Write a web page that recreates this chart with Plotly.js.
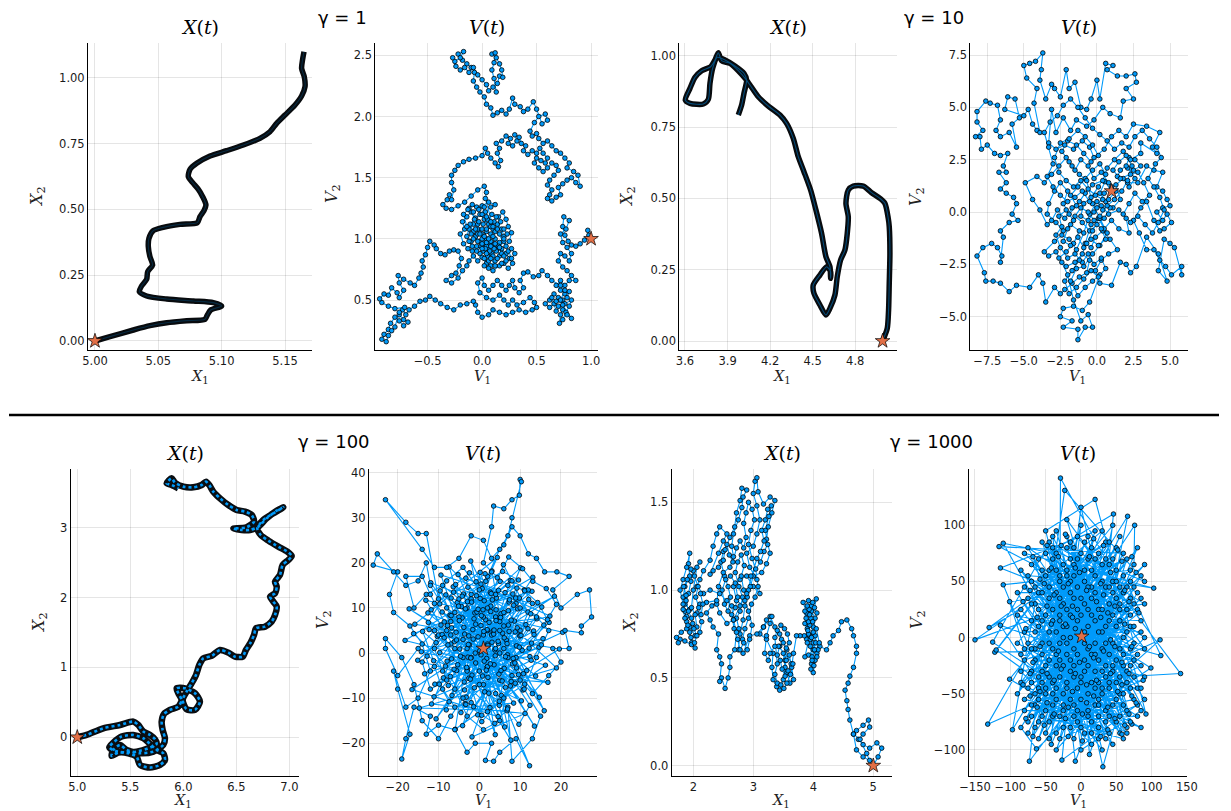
<!DOCTYPE html>
<html><head><meta charset="utf-8">
<script src="https://cdn.plot.ly/plotly-3.0.1.min.js"></script>
<style>html,body{margin:0;padding:0;background:#fff}#chart{width:1231px;height:811px}</style>
</head><body><div id="chart"></div>
<script>
// ---------- DATA ----------
const gammaLabels = ['γ = 1', 'γ = 10', 'γ = 100', 'γ = 1000'];

// γ = 1 : position X(t)
const g1_X = [[5.000,0],[5.0118,0.0165],[5.0303,0.0418],[5.0434,0.0582],[5.0566,0.0696],[5.0724,0.0772],[5.0868,0.0823],[5.0887,0.0987],[5.0913,0.1177],[5.1000,0.1329],[5.0934,0.1456],[5.0776,0.1519],[5.0566,0.1595],[5.0408,0.1709],[5.0350,0.1873],[5.0368,0.2089],[5.0408,0.2342],[5.0416,0.2633],[5.0455,0.2886],[5.0434,0.3203],[5.0421,0.3582],[5.0426,0.3899],[5.0460,0.4190],[5.0539,0.4316],[5.0671,0.4430],[5.0808,0.4494],[5.0829,0.4722],[5.0860,0.4949],[5.0876,0.5165],[5.0850,0.5481],[5.0816,0.5759],[5.0771,0.6013],[5.0737,0.6241],[5.0750,0.6519],[5.0803,0.6747],[5.0908,0.7025],[5.1039,0.7228],[5.1171,0.7443],[5.1302,0.7696],[5.1381,0.7949],[5.1434,0.8266],[5.1500,0.8582],[5.1579,0.8962],[5.1631,0.9304],[5.1658,0.9658],[5.1652,1.0038],[5.1631,1.0354],[5.1639,1.0696],[5.1650,1.0987]];

// γ = 1 : velocity V(t)
const g1_V = [[1.00,1.00],[0.97,1.07],[0.98,1.03],[0.94,0.99],[0.90,0.96],[0.86,0.94],[0.82,0.95],[0.79,0.98],[0.76,1.03],[0.74,1.10],[0.75,1.18],[0.80,1.15],[0.77,1.08],[0.72,1.04],[0.74,0.97],[0.78,0.93],[0.82,0.88],[0.80,0.82],[0.76,0.86],[0.72,0.88],[0.70,0.82],[0.74,0.77],[0.78,0.74],[0.82,0.70],[0.86,0.66],[0.80,0.66],[0.76,0.62],[0.72,0.66],[0.68,0.62],
[0.72,0.58],[0.76,0.55],[0.80,0.57],[0.78,0.52],[0.74,0.50],[0.70,0.52],[0.66,0.55],[0.62,0.50],[0.58,0.47],[0.62,0.44],[0.66,0.47],[0.70,0.45],[0.74,0.42],[0.72,0.38],[0.71,0.31],[0.74,0.34],[0.77,0.40],[0.80,0.45],[0.82,0.50],[0.76,0.47],[0.68,0.49],[0.64,0.52],[0.68,0.41],[0.74,0.46],[0.82,0.35],[0.78,0.38],[0.72,0.50],[0.76,0.58],[0.72,0.62],
[0.64,0.66],[0.60,0.70],[0.55,0.74],[0.52,0.70],[0.47,0.69],[0.42,0.73],[0.38,0.72],[0.35,0.66],[0.38,0.60],[0.34,0.56],[0.30,0.60],[0.28,0.66],[0.25,0.62],[0.22,0.58],[0.18,0.62],[0.14,0.66],[0.10,0.62],[0.06,0.58],[0.02,0.62],[0.00,0.68],[-0.04,0.64],[-0.02,0.56],[0.04,0.52],[0.10,0.50],[0.16,0.54],[0.20,0.50],[0.24,0.46],[0.28,0.50],[0.32,0.46],[0.38,0.48],[0.44,0.52],[0.48,0.48],[0.50,0.44],[0.46,0.42],[0.40,0.40],[0.34,0.42],[0.28,0.40],[0.22,0.38],[0.16,0.40],[0.10,0.42],[0.06,0.38],[0.00,0.36],[-0.04,0.40],[-0.06,0.46],[-0.08,0.49],
[-0.14,0.47],[-0.20,0.46],[-0.26,0.42],[-0.32,0.44],[-0.38,0.47],[-0.43,0.50],[-0.48,0.53],[-0.52,0.50],[-0.57,0.49],[-0.62,0.45],[-0.67,0.42],
[-0.70,0.38],[-0.73,0.42],[-0.76,0.38],[-0.72,0.34],[-0.68,0.32],[-0.72,0.29],[-0.76,0.33],[-0.80,0.36],[-0.84,0.31],[-0.86,0.26],[-0.90,0.22],[-0.92,0.18],[-0.88,0.16],[-0.86,0.21],[-0.83,0.25],[-0.80,0.28],[-0.76,0.40],[-0.71,0.44],[-0.80,0.43],[-0.86,0.45],[-0.92,0.48],[-0.94,0.51],[-0.90,0.55],[-0.86,0.54],
[-0.83,0.60],[-0.78,0.56],[-0.76,0.52],[-0.72,0.58],[-0.76,0.64],[-0.77,0.70],[-0.72,0.67],[-0.66,0.64],[-0.62,0.62],[-0.58,0.68],[-0.56,0.72],[-0.54,0.77],[-0.55,0.82],[-0.52,0.87],[-0.50,0.93],[-0.48,0.98],[-0.44,0.95],[-0.42,0.92],[-0.38,0.88],[-0.34,0.87],[-0.30,0.90],[-0.26,0.91],[-0.22,0.90],[-0.19,0.84],[-0.21,0.78],[-0.24,0.72],[-0.28,0.70],[-0.33,0.66],[-0.28,0.64],[-0.22,0.68],[-0.18,0.74],[-0.14,0.78],[-0.12,0.82],
[-0.08,0.86],[-0.04,0.82],[0.00,0.85],[0.04,0.80],[0.08,0.78],[0.12,0.82],[0.16,0.86],[0.14,0.92],[0.10,0.96],[0.06,0.92],[0.02,0.95],[-0.02,0.98],[-0.06,1.02],[-0.10,0.98],[-0.14,1.02],[-0.12,1.08],[-0.08,1.12],[-0.04,1.08],[0.00,1.04],[0.04,1.00],[0.08,1.04],[0.12,1.00],[0.16,0.97],[0.20,1.02],[0.18,1.08],[0.14,1.12],[0.10,1.08],[0.06,1.12],[0.02,1.16],[-0.02,1.20],[-0.06,1.17],[-0.10,1.22],[-0.14,1.18],[-0.18,1.14],[-0.16,1.08],[-0.20,1.04],[-0.17,0.96],[-0.13,0.92],[-0.09,0.90],[-0.05,0.94],[0.01,0.90],[0.05,0.86],[0.09,0.88],[0.13,0.90],[0.18,0.92],[0.22,0.88],[0.25,0.84],[0.28,0.80],[0.24,0.76],[0.20,0.80],[0.16,0.78],[0.10,0.74],[0.06,0.76],[0.02,0.78],[0.07,0.96],[0.11,1.14],[0.15,1.18],[0.19,1.22],[0.22,1.16],[0.24,1.10],[0.27,1.05],[0.25,0.98],[0.22,0.94],[0.03,1.22],[0.08,1.26],[0.12,1.28],[0.06,1.30],[0.00,1.27],[-0.05,1.26],[-0.09,1.28],[-0.12,1.25],[-0.04,1.12],[0.00,1.00],[0.04,0.94],[0.08,0.98],[-0.02,0.88],
[0.02,0.84],[0.06,0.82],[0.10,0.86],[0.14,0.84],[0.18,0.88],[0.15,0.94],[0.11,0.92],[0.07,0.90],[0.03,0.92],[-0.01,0.94],[-0.05,0.90],[-0.09,0.94],[-0.12,0.98],[-0.08,1.00],[-0.04,1.04],[0.00,1.08],[0.04,1.06],[0.08,1.10],[0.12,1.06],[0.16,1.04],[0.20,1.08],[0.23,1.04],[0.20,0.98],[0.16,0.93],[0.12,0.96],[0.08,0.94],[0.04,0.97],[0.00,0.96],[-0.04,0.98],[-0.08,1.06],[-0.11,1.12],[-0.07,1.16],[-0.03,1.14],[0.01,1.12],[0.05,1.16],[0.09,1.20],[0.13,1.18],[0.17,1.14],[0.14,1.08],[0.10,1.02],[0.06,1.00],[0.02,1.02],[-0.02,1.04],[-0.06,1.08],[-0.10,1.04],[-0.14,1.10],[-0.17,1.20],[-0.13,1.24],[-0.08,1.22],[-0.03,1.24],[0.02,1.26],[0.00,1.20],[0.04,1.18],[0.08,1.14],[0.04,1.08],[0.00,0.92],[0.04,0.88],[0.08,0.84],[0.12,0.78],[0.18,0.80],[0.22,0.82],[0.20,0.86],[0.24,0.90],[0.27,0.92],[0.30,0.88],[0.27,0.84],[0.20,1.00],[0.10,1.10],
[0.03,1.33],[0.04,1.38],[0.02,1.43],[-0.04,1.40],[-0.10,1.35],[-0.16,1.30],[-0.22,1.27],[-0.28,1.24],[-0.33,1.25],[-0.36,1.28],[-0.32,1.32],[-0.30,1.36],[-0.28,1.32],[-0.26,1.40],[-0.28,1.46],[-0.28,1.52],[-0.25,1.56],[-0.22,1.60],[-0.17,1.63],[-0.12,1.65],[-0.06,1.66],[0.00,1.68],[0.03,1.74],[0.05,1.70],[0.08,1.66],[0.12,1.62],[0.15,1.59],[0.17,1.64],[0.14,1.70],[0.16,1.74],[0.13,1.78],
[0.18,1.80],[0.22,1.84],[0.26,1.82],[0.24,1.78],[0.28,1.76],[0.32,1.80],[0.30,1.85],[0.34,1.83],[0.36,1.78],[0.40,1.76],[0.38,1.72],[0.42,1.69],[0.46,1.72],[0.50,1.70],[0.53,1.74],[0.56,1.70],[0.60,1.66],[0.58,1.62],[0.54,1.64],[0.50,1.66],[0.48,1.62],[0.52,1.58],[0.56,1.55],[0.60,1.58],[0.64,1.62],[0.68,1.60],[0.70,1.56],[0.66,1.52],[0.62,1.48],[0.60,1.44],[0.64,1.40],[0.62,1.36],[0.60,1.33],[0.64,1.31],[0.68,1.34],[0.72,1.36],[0.70,1.42],[0.74,1.45],[0.78,1.48],[0.82,1.50],[0.86,1.46],[0.90,1.43],[0.88,1.52],[0.84,1.55],[0.78,1.58],[0.80,1.62],[0.76,1.66],[0.72,1.70],[0.68,1.72],[0.64,1.76],[0.60,1.80],[0.56,1.78],[0.52,1.82],[0.50,1.86],[0.46,1.84],[0.44,1.88],
[0.48,1.95],[0.52,2.00],[0.58,2.02],[0.60,1.97],[0.55,1.94],[0.50,2.06],[0.47,2.12],[0.42,2.06],[0.38,2.04],[0.35,2.08],[0.30,2.10],[0.28,2.15],[0.25,2.06],[0.22,2.02],[0.18,2.05],[0.14,2.03],[0.10,2.01],[0.08,2.07],[0.04,2.10],[0.02,2.16],[-0.02,2.20],[-0.05,2.24],[-0.08,2.29],[-0.07,2.36],[-0.10,2.40],[-0.14,2.43],[-0.18,2.46],[-0.22,2.51],[-0.17,2.53],[-0.20,2.48],[-0.25,2.45],[-0.27,2.48],[-0.24,2.41],[-0.20,2.38],[-0.16,2.40],[-0.12,2.36],[-0.08,2.40],[-0.04,2.34],[0.00,2.30],[0.04,2.26],[0.06,2.21],[0.10,2.24],[0.14,2.27],[0.16,2.33],[0.19,2.32],[0.18,2.38],[0.16,2.43],[0.13,2.48],[0.09,2.51],[0.12,2.52],[0.11,2.44],[0.09,2.38],[0.11,2.31],[0.13,2.20]];

// γ = 10 : position X(t)
const g10_X = [[4.9925,0],[5.0254,0.0444],[5.0348,0.1086],[5.0395,0.2021],[5.0442,0.3072],[5.0395,0.4007],[5.0325,0.4299],[5.0090,0.4825],[4.9738,0.5],[4.9150,0.5199],[4.8563,0.5432],[4.7859,0.5432],[4.7507,0.5292],[4.7342,0.4825],[4.7507,0.4357],[4.7436,0.3773],[4.7272,0.3189],[4.6967,0.2839],[4.6732,0.2255],[4.6567,0.1612],[4.6215,0.1145],[4.5933,0.0911],[4.5511,0.1262],[4.5088,0.1671],[4.5041,0.1963],[4.5511,0.2313],[4.5980,0.2605],[4.6262,0.2430],[4.6262,0.2196],[4.6215,0.2605],[4.5933,0.2956],[4.5628,0.3773],[4.5229,0.4591],[4.4853,0.5292],[4.4383,0.5935],[4.3984,0.6460],[4.3632,0.7103],[4.3162,0.7629],[4.2693,0.7921],[4.1871,0.8236],[4.1166,0.8563],[4.0697,0.8890],[4.0297,0.9171],[3.9757,0.9474],[3.9170,0.9731],[3.8583,0.9825],[3.8348,1.0105],[3.8113,0.9848],[3.7808,0.9614],[3.7174,0.9474],[3.6704,0.9241],[3.6352,0.8855],[3.6023,0.8446],[3.6352,0.8329],[3.7292,0.8306],[3.7644,0.8470],[3.7761,0.9030],[3.7949,0.9556],[3.8278,0.9942],[3.8818,0.9848],[3.9522,0.9638],[4.0157,0.9381],[4.0344,0.9147],[4.0157,0.8680],[3.9992,0.8271],[3.9757,0.7921]];

// γ = 10 : velocity V(t)
const g10_V = [[1.00,1.00],[0.55,1.45],[0.20,0.90],[0.60,0.50],[1.10,0.20],[1.60,0.60],[1.30,1.30],[1.80,1.60],[2.20,1.20],[2.60,1.60],[2.10,2.10],[2.50,2.00],[3.00,2.20],[2.60,2.50],[2.20,2.60],[2.00,2.20],[1.60,2.00],[1.40,1.70],[2.10,1.40],[2.80,1.40],[3.40,2.20],[3.90,2.00],[4.50,1.90],[4.10,1.20],[4.50,1.00],[4.80,0.60],[5.00,0.30],[4.50,0.20],[4.10,0.00],[4.50,-0.40],[4.80,-0.10],[5.10,-0.50],[4.60,-0.80],[4.30,-0.90],[3.90,-0.40],[3.40,0.50],[3.00,0.20],[2.50,-0.40],[2.90,-1.00],[3.40,-1.80],[3.90,-1.80],[4.30,-2.30],[4.70,-2.60],[5.10,-3.00],[5.80,-2.60],[5.80,-3.00],[5.30,-1.70],[5.00,-1.50],[4.60,-1.30],[4.20,-2.80],[4.80,-3.30],[4.20,-2.00],[3.40,-1.20],[2.70,-2.60],[2.30,-2.90],[2.00,-2.50],[1.60,-2.40],[1.00,-3.50],[0.20,-3.40],[-0.10,-2.80],[0.30,-2.30],[0.80,-2.00],[1.40,-1.80],[0.90,-1.30],[0.40,-0.90],[-0.10,-1.20],[-0.40,-1.70],[-0.80,-1.50],[-0.40,-0.60],[0.10,-0.30],[0.50,-0.80],[1.00,-0.40],[1.50,-0.80],[2.20,-1.00],[2.00,-0.30],[1.50,0.10],[0.80,-0.10],[0.30,0.30],[-0.20,0.00],[-0.60,-0.40],[-1.10,-0.20],[-0.90,0.40],[-0.40,0.70],[0.10,1.20],[0.60,1.80],[0.20,2.30],[-0.30,2.00],[-0.80,1.60],[-1.30,1.20],[-1.80,0.80],[-1.40,0.30],[-1.90,-0.10],[-2.30,0.40],[-2.00,1.00],[-2.50,1.40],[-2.90,1.00],[-3.30,0.40],[-3.40,-0.10],[-2.80,-0.50],[-2.30,-0.90],[-1.80,-0.60],[-1.20,-0.90],[-1.60,-1.50],[-2.10,-1.90],[-2.60,-2.20],[-2.10,-2.60],[-1.50,-2.40],[-1.00,-2.00],[-0.50,-2.30],[-0.70,-2.90],[-1.20,-3.10],[-1.70,-3.40],[-2.20,-3.70],[-2.50,-3.90],[-2.90,-3.60],[-3.50,-4.30],[-3.70,-3.40],[-4.00,-3.00],[-4.60,-3.60],[-5.50,-3.50],[-6.00,-3.80],[-6.60,-3.40],[-7.10,-3.30],[-7.60,-3.30],[-7.70,-2.90],[-8.20,-2.10],[-7.80,-1.70],[-7.20,-1.50],[-6.80,-1.70],[-6.50,-2.10],[-6.60,-2.40],[-6.40,-1.20],[-6.60,-0.90],[-6.00,-0.50],[-5.40,-0.40],[-5.80,-0.10],[-5.50,0.40],[-5.70,0.70],[-6.20,0.90],[-6.60,1.10],[-6.20,1.40],[-6.70,1.90],[-6.20,1.90],[-6.40,2.20],[-6.10,2.80],[-6.60,2.70],[-7.00,2.80],[-7.50,3.20],[-7.90,3.00],[-8.00,3.60],[-8.30,3.60],[-7.80,3.90],[-8.20,4.30],[-8.20,4.80],[-7.60,5.30],[-7.30,5.20],[-6.80,5.10],[-6.60,4.40],[-6.90,3.90],[-6.60,3.60],[-6.00,3.80],[-5.50,3.10],[-5.80,4.20],[-5.30,4.50],[-5.60,5.40],[-6.10,5.50],[-6.30,4.90],[-5.00,4.60],[-4.70,4.90],[-4.40,4.20],[-4.10,3.90],[-3.90,3.80],[-4.30,5.20],[-4.10,5.90],[-4.80,6.40],[-5.00,7.00],[-4.60,7.10],[-4.20,7.20],[-3.70,7.60],[-3.80,6.80],[-3.90,6.30],[-3.50,5.40],[-3.10,6.10],[-2.90,5.90],[-2.50,5.50],[-2.10,6.80],[-1.90,5.90],[-1.50,6.20],[-1.10,5.00],[-0.70,4.90],[-0.40,5.40],[0.00,6.30],[0.20,5.40],[0.60,7.10],[1.10,7.00],[0.70,6.80],[1.40,6.50],[2.00,6.50],[2.60,6.60],[2.70,6.20],[2.00,5.90],[2.50,5.40],[1.80,5.30],[1.60,4.50],[0.90,4.70],[0.40,5.00],[-0.20,4.40],[-0.70,4.10],[-1.40,4.40],[-1.80,3.90],[-2.30,4.50],[-2.80,3.80],[-3.10,4.90],[-3.30,3.30],[-2.80,3.00],[-2.20,3.20],[-1.60,3.00],[-1.00,3.40],[-0.50,3.10],[-0.20,2.60],[0.50,3.00],[1.00,3.60],[1.50,3.90],[2.00,3.60],[2.50,4.20],[3.40,4.10],[4.30,3.80],[3.80,3.10],[4.10,2.80],[3.00,3.30],[3.00,2.80],[2.30,2.50],[1.80,2.90],[1.20,2.50],[0.70,2.10],[0.40,1.50],[-0.30,1.30],[-0.80,0.90],[-1.20,0.50],[-1.70,0.20],[-2.20,-0.30],[-2.70,0.10],[-3.10,-0.40],[-3.40,-0.60],[-3.90,0.10],[-4.40,0.60],[-4.90,1.40],[-4.10,1.70],[-3.60,1.40],[-3.10,1.80],[-2.60,2.20],[-2.10,2.60],[-1.70,2.20],[-1.20,1.80],[-0.70,1.50],[-0.30,0.40],[0.20,-0.30],[0.70,-1.00],[0.20,-1.60],[-0.30,-2.00],[-0.90,-2.60],[-1.40,-2.70],[-1.80,-3.30],[-1.30,-4.00],[-0.80,-3.60],[-0.30,-3.30],[0.20,-3.00],[-0.50,-4.30],[-1.00,-4.70],[-1.60,-4.50],[-2.30,-4.60],[-2.50,-5.00],[-1.70,-5.20],[-2.30,-5.50],[-1.30,-5.60],[-1.30,-6.10],[-0.80,-5.50],[-0.30,-5.50],[-0.60,-4.90],[-1.10,-5.20],[-1.60,-4.20],[-2.00,-3.00],[-2.40,-2.40],[-2.80,-1.90],[-3.30,-2.10],[-3.60,-1.90],[-2.90,-1.40],[-2.40,-1.10],[-1.90,-1.30],[-1.40,-1.80],[-0.90,-1.00],[-0.50,-0.10],[0.00,0.50],[0.40,0.10],[0.80,0.60],[1.30,1.00],
[0.8,1.4],[0.3,1.9],[-0.2,1.6],[-0.6,2.2],[-1.1,2.5],[-1.5,2.0],[-1.9,2.4],[-2.4,2.9],[-2.0,3.4],[-1.4,3.2],[-0.9,2.8],[-0.4,2.4],[0.1,2.7],[-0.3,3.2],[-0.8,3.6],[-1.3,3.9],[-1.9,3.5],[-2.5,3.3],[-2.9,2.6],[-2.6,1.9],[-2.1,1.5],[-1.6,1.2],[-1.1,1.5],[-0.6,1.1],[-0.1,0.8],[0.4,0.6],[0.9,0.2],[0.5,-0.3],[0.0,-0.6],[-0.5,-0.9],[-1.0,-0.5],[-1.5,-0.2],[-1.1,0.2],[-0.6,0.0],[-0.2,-0.4],[0.3,-0.8],[0.6,-1.3],[0.1,-1.6],[-0.4,-1.3],[-0.9,-1.7],[-1.3,-1.2],[-1.8,-1.6],[-2.3,-1.4],[-2.0,-0.8],[-1.6,-0.4],[-2.1,0.1],[-2.6,-0.2],[-2.4,-0.7],[-2.8,-1.1],[-2.5,-1.7],[-2.0,-2.2],[-1.5,-2.0],[-1.0,-2.4],[-0.6,-2.0],[-0.2,-2.5],[0.3,-2.2],[0.6,-2.7],[0.1,-3.1],[-0.4,-2.8],[-0.9,-3.2],[-1.4,-3.6],[-1.9,-3.9],[-2.2,-3.3],[-1.7,-2.8],[-1.2,-2.3],[-0.7,-1.5],[-0.3,-0.9],[0.2,-0.2],[0.7,0.3],[1.2,0.6],[1.7,1.0],[2.1,1.5],[2.4,2.2],[2.0,2.7],[1.5,2.4],[1.1,2.0],[1.6,1.6],[2.3,1.8],[2.8,1.9],[3.2,1.4],[3.6,0.8],[3.1,0.5],[2.6,0.9],[2.2,0.4],[1.8,-0.1],[2.3,-0.5],[2.8,-0.2],[3.3,-0.6],[3.8,-1.0],[4.2,-0.5],[4.6,0.1],[4.3,0.7],[3.9,1.2],[3.5,1.6],[4.0,2.3],[4.4,2.6],[4.1,3.1],[3.6,3.5],[3.1,3.9],[2.6,3.6],[2.2,3.1],[1.7,3.3],[1.2,3.0],[0.7,3.4],[0.2,3.7],[-0.3,4.0],[-0.8,4.5],[-1.3,5.0],[-1.8,5.4],[-2.3,5.1],[-2.7,4.6],[-3.2,4.3],[-3.6,3.8],[-3.3,3.1],[-3.0,2.3],[-3.4,1.7],[-3.0,1.2],[-2.5,0.8],[-2.0,0.5],[-1.5,0.7],[-1.0,1.0],[-0.5,0.5],[0.0,0.2],[0.5,0.9],[1.0,1.2]];

// γ = 100 : position X(t)
const g100_X = [[5.000,0.000],[5.088,0.033],[5.245,0.129],[5.403,0.176],[5.528,0.224],[5.575,0.176],[5.623,0.081],[5.686,0.033],[5.733,-0.029],[5.748,-0.095],[5.670,-0.157],[5.560,-0.205],[5.450,-0.215],[5.355,-0.196],[5.302,-0.143],[5.340,-0.076],[5.418,0.010],[5.528,0.033],[5.623,-0.014],[5.686,-0.095],[5.748,-0.181],[5.811,-0.229],[5.827,-0.324],[5.780,-0.396],[5.686,-0.434],[5.591,-0.396],[5.560,-0.277],[5.481,-0.229],[5.387,-0.219],[5.324,-0.267],[5.340,-0.181],[5.403,-0.110],[5.465,-0.181],[5.591,-0.229],[5.717,-0.205],[5.811,-0.110],[5.827,-0.014],[5.805,0.105],[5.796,0.224],[5.818,0.334],[5.874,0.391],[5.953,0.439],[5.984,0.534],[5.953,0.630],[5.937,0.701],[6.016,0.701],[6.110,0.630],[6.157,0.510],[6.110,0.391],[6.031,0.401],[5.994,0.534],[6.031,0.653],[6.079,0.773],[6.120,0.892],[6.151,1.035],[6.189,1.130],[6.267,1.164],[6.346,1.250],[6.425,1.211],[6.487,1.154],[6.560,1.154],[6.591,1.250],[6.635,1.355],[6.667,1.464],[6.686,1.560],[6.770,1.583],[6.833,1.655],[6.865,1.750],[6.881,1.870],[6.849,1.941],[6.818,2.013],[6.865,2.060],[6.881,2.156],[6.865,2.227],[6.912,2.323],[6.937,2.466],[6.991,2.537],[7.022,2.595],[6.981,2.657],[6.896,2.728],[6.802,2.814],[6.730,2.895],[6.698,2.990],[6.755,3.110],[6.849,3.205],[6.943,3.291],[6.881,3.243],[6.786,3.133],[6.708,3.014],[6.629,2.967],[6.550,2.967],[6.472,2.986],[6.597,3.005],[6.667,3.086],[6.645,3.181],[6.582,3.229],[6.503,3.253],[6.425,3.324],[6.346,3.420],[6.283,3.515],[6.245,3.610],[6.214,3.658],[6.173,3.610],[6.094,3.577],[6.000,3.587],[5.921,3.644],[5.890,3.706],[5.843,3.634],[5.890,3.610],[5.953,3.563]];

// γ = 100 : velocity V(t)
const g100_V = [[1,1],[5.3,8.7],[-3.6,4.2],[8.1,-2.4],[2.7,13.5],[-7.9,-1.8],[11.4,6.3],[-1.2,-7.7],[6.6,2.9],[-5.4,11.2],[13.8,-5.1],[0.4,6.1],[-10.3,3.7],[4.9,-11.6],[9.2,14.4],[-2.8,-0.9],[15.6,3.2],[-6.7,-9.4],[3.1,18.2],[7.8,-6.3],[-12.6,8.9],[10.5,0.6],[-0.7,12.7],[-8.8,-5.5],[5.7,4.4],[12.1,11.9],[-4.5,-13.2],[1.9,-3.1],[-14.2,0.3],[17.3,8.2],[-3.3,16.6],[6.2,-16.4],[-9.6,13.8],[14.7,-9.8],[0.9,9.6],[-6.1,2.5],[8.6,7.1],[-1.8,-18.6],[11.2,-13.4],[-11.7,-11.3],[4.4,21.2],[-15.8,6.4],[19.6,0.9],[2.3,-8.9],[-7.4,19.1],[9.9,3.8],[-4.2,7.8],[13.1,16.8],[-2.6,-5.6],[7.3,11.3],[-13.4,-4.6],[3.8,0.7],[16.2,-2.7],[-5.9,-16.9],[0.2,17.9],[10.7,-8.2],[-9.1,9.1],[6.9,-0.4],[-0.3,3.6],[18.4,12.6],[-16.5,-8.1],[4.6,-14.1],[-3.9,13.1],[12.8,2.2],[-8.3,-2.9],[2.8,10.4],[-11.9,15.6],[8.4,-11.1],[-1.4,-11.9],[14.1,7.6],[-6.8,5.6],[5.1,15.9],[-18.2,2.8],[11.6,-3.9],[0.6,-15.2],[-4.8,0.9],[9.4,9.8],[-10.6,-14.6],[3.4,4.9],[15.9,-12.8],[-2.1,20.4],[7.7,-19.3],[-13.1,11.7],[20.4,4.6],[-7.6,-7.2],[1.5,7.4],[-0.9,-2.2],[12.4,-0.8],[-5.2,17.4],[6.4,-7.6],[-15.1,-1.6],[10.1,18.9],[-3.2,-9.8],[4.2,12.2],[-9.7,0.1],[16.8,-6.5],[2.1,-5.4],[-12.3,5.2],[8.8,4.7],[-4.4,10.3],[13.5,-16.2],[-1.6,5.2],[-8.1,-12.6],[5.9,19.6],[11.9,9.1],[-6.4,14.7],[3.6,-2.6],[-17.2,9.8],[9.6,-4.8],[0.7,14.3],[-3.7,-6.4],[14.6,1.3],[-10.9,-6.9],[7.1,6.2],[-0.4,-13.7],[4.7,2.1],[-7.2,8.4],[12.9,13.7],[-2.4,1.8],[6.8,-12.8],[-14.7,-12.2],[18.9,-3.3],[1.2,11.6],[-5.6,-3.9],[9.1,1.6],[-1.1,8.9],[3.9,-18.1],[-9.4,17.3],[15.3,10.2],[-4.1,-16.1],[7.6,16.1],[-12.8,-0.7],[10.3,-10.6],[0.1,0.5],[5.4,-9.4],[-6.9,12.2],[13.3,4.9],[-2.9,-3.6],[8.2,13.1],[-16.1,4.3],[2.6,-12.1],[11.1,-6.9],[-8.6,6.9],[4.1,7.9],[-3.5,-11.2],[17.1,6.8],[-0.8,15.8],[6.1,-3.4],[-11.1,-9.7],[9.8,12.2],[-5.7,4.6],[1.8,-1.2],
[12.3,-25],[9,-19],[5,-22],[3.5,-24],[1.5,-23.8],[3,-20],[-1,-20],[-3,-22],[-6,-17],[-10,-16],[-13,-18],[-12,-14],[-16,-12],[-18,-19],[-19,-23.5],[-17,-18],[-20,-8],[-21,-4],[-18,-12],[-15,-10],[-12,-4],[-14,2],[-17,6],[-21,9],[-22,13],[-20,18],[-26,19.5],[-25,22],[-21,18],[-18,15],[-15,16],[-13,20],[-12,15],[-10,12],[-13,26.5],[-15,26.5],[-18,29],[-23,34],[-14,23],[-11,19],[-8,19],[-5,21],[-2,26],[1,25],[3,21],[6,24],[8,28],[10,26],[12,22],[14,21],[16,18],[19,18],[22,17],[18,14],[20,10],[24,13],[27,14],[27.5,8],[25,6],[25,4.5],[21,5],[22,1],[18,1],[20,-2],[17,-5],[13,-9],[10,-6],[6,-10],[2,-13],[-2,-11],[-6,-12],[-9,-8],[-11,-3],[-7,2],[-4,-1],[0,-4],[4,1],[7,-1],[10,5],[13,11],[11,14],[7,15],[3,18],[1,20],[3,28],[3.5,32.6],[6,32],[8,34],[9.8,35],[10,38.5],[10.3,38],[8,30],[7,26],[5,23],[2,17],[-2,13],[-6,9],[-10,4],[-14,-2],[-12,-8],[-8,-6],[-3,-4],[1,-7],[5,-6],[9,-1],[6,6],[2,10],[-2,12],[-5,8],[-8,10],[-4,3],[-1,0],[3,4],[6,1],[4,8],[0,14],[-4,19],[-8,16],[-11,11],[-7,7],[-3,10],[1,4],[5,0],[8,-5],[5,-15],[1,-17],[-3,-14],[-6,-8],[-9,-4],[-11,1],[-8,5],[-5,12],[-9,15],[-13,13],[-16,10],[-18,17],[-14,17],[-12,13],[-7,4],[-3,1],[2,5],[6,9],[10,10],[14,8],[17,5],[14,-1],[11,-8],[15,-14],[13,-19],[8,-24],[7,-12],[4,-9],[0,-7],[-4,-10],[-7,-14],[-10,-19],[-14,-15],[-16,-7],[-19,-1],[-23,3.2],[-23,1],[-20,-5],[-15,1],[-11,5],[-6,1],[-2,-1],[2,2],[5,5],[1,8],[4,13],[8,16],[12,14],[9,11],[5,7],[2,-3],[1,1],
[3.5,4.2],[6.8,2.1],[9.3,5.6],[7.1,9.4],[3.2,11.8],[-0.6,9.1],[-3.8,5.7],[-6.9,8.3],[-4.2,12.6],[0.4,15.3],[4.7,13.9],[8.9,12.2],[12.6,8.7],[10.2,3.9],[6.4,-0.8],[2.7,-2.4],[-1.8,-4.9],[-5.3,-2.6],[-7.7,1.8],[-9.4,6.2],[-11.8,9.6],[-8.2,12.9],[-5.1,10.4],[-1.3,7.6],[1.9,5.2],[5.2,7.9],[8.4,10.6],[11.1,13.8],[14.3,11.2],[16.7,7.4],[13.4,4.1],[9.8,1.3],[6.1,3.4],[2.4,6.8],[-1.5,3.1],[-4.6,-0.7],[-2.2,-5.8],[1.3,-8.6],[4.9,-10.7],[7.6,-7.3],[10.8,-4.6],[8.3,-1.2],[4.6,2.6],[1.1,4.8],[-2.7,1.9],[-6.2,-3.6],[-9.8,-6.9],[-7.4,-10.8],[-3.6,-8.2],[0.8,-5.1],[3.9,-0.6],[7.3,4.8],[4.1,9.6],[0.2,12.1],[-3.4,9.8],[-7.8,6.1],[-10.6,2.3],[-13.9,4.8],[-11.2,-1.7],[-7.1,-5.2],[-3.3,-11.4],[0.6,-13.8],[3.8,-15.6],[6.9,-12.4],[9.7,-15.8],[12.4,-11.6],[8.8,-6.7],[5.3,-3.9],[2.1,1.7],[-0.9,6.4],[2.8,9.2],[6.3,13.4],[9.6,16.2],[5.7,18.1],[1.6,15.9],[-2.4,17.8],[-5.8,15.2],[-2.9,11.4],[0.5,8.3],[3.6,5.1],[7.8,7.3],[11.9,5.4],[15.2,1.8],[12.7,-1.6],[9.1,-3.3],[5.6,-6.2],[1.7,-3.8],[-2.1,-1.1],[-5.6,2.9],[-9.1,4.1],[-12.5,6.8],[-9.7,10.9],[-6.3,13.5],[-2.8,14.6],[1.4,17.6],[4.4,16.7],[7.2,21.3],[10.6,18.7],[13.1,15.9],[16.4,14.3],[18.9,10.8],[15.8,6.2],[12.2,1.1],[8.7,-2.2],[4.8,-4.7],[1.2,-1.8],[-2.6,3.8],[-0.3,9.7],[4.1,7.2],[7.4,11.8],[2.9,13.2],[-1.9,11.3],[-4.9,7.2],[-8.6,3.4],[-6.8,-1.3],[-3.1,-3.2],[0.4,-0.4],[3.1,2.4]];

// γ = 1000 : position X(t)
const g1000_X = [[5.00,0.00],[5.08,0.05],[5.14,0.10],[5.06,0.13],[4.94,0.10],[4.83,0.12],[4.75,0.15],[4.83,0.18],[4.94,0.22],[4.92,0.26],[4.83,0.23],[4.72,0.20],[4.67,0.18],[4.78,0.15],[4.89,0.07],[4.94,0.03],[4.83,0.05],[4.72,0.09],[4.67,0.18],[4.61,0.26],[4.58,0.32],[4.56,0.37],[4.53,0.43],[4.58,0.47],[4.61,0.51],[4.67,0.56],[4.72,0.64],[4.72,0.68],[4.67,0.74],[4.64,0.78],[4.56,0.83],[4.47,0.82],[4.42,0.77],[4.33,0.74],[4.28,0.70],[4.22,0.66],[4.11,0.68],[4.00,0.66],[3.92,0.63],[3.86,0.62],
[3.94,0.74],[4.00,0.79],[4.06,0.87],[3.97,0.91],[3.92,0.94],[3.83,0.93],[3.89,0.87],[3.86,0.81],[3.92,0.75],[4.00,0.70],[4.06,0.64],[3.97,0.58],[4.00,0.53],[4.03,0.60],[4.08,0.66],[4.03,0.74],[3.89,0.72],[3.94,0.80],[4.03,0.84],[3.97,0.88],[3.92,0.82],[3.95,0.68],
[3.98,0.62],[4.04,0.70],[4.00,0.76],[3.95,0.72],[3.90,0.78],[3.96,0.84],[4.02,0.90],[4.05,0.95],[3.99,0.93],[3.93,0.89],[3.88,0.84],[3.91,0.77],[3.97,0.73],[4.02,0.66],[3.98,0.60],[3.96,0.55],[4.01,0.57],[4.06,0.62],[4.10,0.70],[4.05,0.78],[3.99,0.82],[3.94,0.86],[3.90,0.91],[3.86,0.88],[3.90,0.70],[3.85,0.74],[3.78,0.74],[3.72,0.74],
[3.67,0.64],[3.64,0.56],[3.67,0.49],[3.61,0.47],[3.56,0.53],[3.53,0.60],[3.56,0.66],[3.47,0.72],[3.44,0.75],[3.36,0.79],[3.28,0.85],[3.17,0.79],[3.11,0.75],[3.22,0.72],[3.33,0.64],[3.31,0.56],[3.33,0.49],[3.39,0.45],[3.44,0.43],[3.50,0.49],[3.53,0.56],[3.50,0.64],
[3.55,0.60],[3.60,0.63],[3.63,0.58],[3.58,0.54],[3.53,0.51],[3.48,0.55],[3.45,0.60],[3.40,0.63],[3.44,0.68],[3.50,0.70],[3.55,0.67],[3.60,0.70],[3.57,0.75],[3.52,0.78],[3.46,0.80],[3.40,0.77],[3.36,0.73],[3.40,0.58],[3.36,0.52],[3.40,0.47],[3.46,0.46],[3.51,0.44],[3.56,0.47],[3.62,0.52],[3.66,0.58],
[3.42,0.68],[3.36,0.68],[3.28,0.64],[3.25,0.60],[3.19,0.64],[3.22,0.74],[3.28,0.81],[3.31,0.85],[3.22,0.83],[3.17,0.79],
[3.06,0.75],[2.94,0.74],[2.83,0.64],[2.75,0.66],[2.78,0.75],[2.83,0.83],[2.86,0.91],[2.72,0.94],[2.67,1.02],[2.78,1.06],[2.89,1.08],[3.00,1.02],[3.11,0.98],[3.06,1.06],[2.94,1.13],[2.89,1.21],[3.00,1.25],[3.06,1.32],[3.11,1.40],[3.06,1.48],[3.00,1.55],[3.03,1.62],[3.06,1.64],[3.08,1.56],[3.17,1.49],[3.28,1.53],[3.36,1.51],[3.31,1.44],[3.25,1.36],[3.22,1.29],[3.28,1.21],[3.22,1.15],[3.14,1.10],[3.00,1.08],
[2.95,1.02],[2.90,0.96],[2.84,1.00],[2.80,1.08],[2.85,1.14],[2.80,1.20],[2.74,1.16],[2.70,1.10],[2.76,1.02],[2.82,0.96],[2.78,0.88],[2.72,0.84],[2.76,0.78],[2.82,0.72],[2.86,0.78],[2.92,0.84],[2.97,0.92],[3.03,0.96],[3.08,1.02],[3.04,1.12],[2.98,1.18],[2.92,1.26],[2.96,1.34],[3.02,1.40],[2.98,1.46],[2.92,1.50],[2.88,1.44],[2.84,1.38],[2.88,1.30],[2.84,1.24],[2.78,1.28],[2.72,1.24],[2.66,1.16],[2.60,1.20],[2.56,1.26],[2.50,1.22],[2.46,1.16],[2.52,1.08],[2.58,1.02],[2.62,0.96],[2.58,0.88],[2.52,0.92],[2.48,1.00],[2.54,1.06],[2.62,1.08],[2.70,1.04],[2.74,0.96],[2.70,0.90],[2.64,0.86],[2.68,0.78],[2.74,0.72],[2.78,0.66],[2.84,0.70],[2.90,0.66],[2.94,0.72],[2.98,0.80],[2.92,0.88],[2.86,0.94],[2.92,1.00],[2.96,1.08],[3.12,1.16],[3.18,1.22],[3.24,1.26],[3.20,1.34],[3.26,1.42],[3.30,1.48],[3.24,1.46],[3.20,1.40],[3.14,1.34],[3.18,1.28],[3.12,1.22],[3.06,1.18],
[2.89,0.98],[2.78,0.91],[2.67,0.83],[2.56,0.81],[2.44,0.87],[2.39,0.92],[2.42,1.02],[2.50,1.10],[2.61,1.13],[2.67,1.19],[2.64,1.25],[2.67,1.32],[2.75,1.40],[2.81,1.47],[2.83,1.53],[2.89,1.57],[2.81,1.58],[2.78,1.51],[2.72,1.44],[2.69,1.36],[2.61,1.30],[2.53,1.23],[2.50,1.17],[2.42,1.13],[2.33,1.11],[2.28,1.09],[2.42,1.21],[2.50,1.28],[2.56,1.32],[2.44,1.36],[2.39,1.32],[2.33,1.25],[2.28,1.17],[2.17,1.11],[2.11,1.06],[2.06,1.02],[2.17,0.98],[2.28,1.00],[2.44,0.98],[2.56,0.94],[2.64,0.91],[2.67,0.83],[2.72,0.76],[2.69,0.66],[2.61,0.62],[2.61,0.56],[2.58,0.50],[2.53,0.44],[2.47,0.50],[2.44,0.48],[2.47,0.58],[2.44,0.62],[2.39,0.66],[2.42,0.75],[2.33,0.79],[2.28,0.83],[2.22,0.87],[2.31,0.91],[2.39,0.94],
[2.22,0.93],[2.11,0.92],[2.06,0.87],[2.14,0.82],[2.11,0.76],[2.03,0.74],[1.94,0.79],[1.89,0.85],[1.94,0.89],[1.86,0.92],[1.83,0.96],[1.86,1.02],[1.94,1.08],[1.92,1.15],[1.94,1.21],[1.89,1.13],[1.83,1.06],[1.78,1.00],[1.83,0.92],[1.86,0.88],[1.89,0.82],[1.94,0.76],[1.97,0.70],[2.03,0.67],[1.97,0.69],[1.86,0.71],[1.78,0.72],[1.75,0.70],[1.72,0.73],[1.80,0.76],[1.89,0.78],[1.99,0.81],[2.06,0.79],[2.03,0.86],[1.97,0.90],[2.00,1.00],[2.06,1.13],[2.11,1.16],[2.00,1.11],
[1.96,1.05],[1.92,0.98],[1.88,0.94],[1.92,0.88],[1.97,0.84],[2.01,0.78],[2.06,0.74],[2.02,0.70],[1.96,0.73],[1.91,0.80],[1.86,0.84],[1.83,0.89],[1.88,0.97],[1.84,1.02],[1.90,1.06],[1.96,1.12],[2.02,1.08],[2.08,1.02],[2.04,0.96],[2.09,0.90],[2.13,0.86],[2.16,0.92],[2.12,0.98]];

// γ = 1000 : velocity V(t)
const g1000_V = [[1,1],[45,-30],[-60,40],[20,70],[-35,-55],[70,10],[-80,-20],[15,-75],[-20,55],[-150,-2],[55,45],[-45,5],[30,-10],[-10,-35],[80,-45],[-70,65],[5,30],[-25,-80],[60,-60],[-55,-30],[35,85],[-130,9],[-85,25],[10,-50],[-15,20],[90,30],[-40,80],[25,-90],[-65,-60],[50,60],[-5,-15],[75,-20],[-132,-77],[-30,35],[40,15],[-75,-45],[0,75],[-50,-85],[85,55],[-20,-5],[15,45],[-60,10],[65,-85],[-125,-4],[-35,95],[30,-45],[-90,-5],[45,100],[-10,-60],[70,35],[-45,-20],[20,-30],[-70,50],[55,-10],[-122,-13],[-25,65],[10,10],[-80,-65],[35,-65],[-15,85],[90,-10],[-55,60],[5,-85],[-40,-40],[60,75],[-116,81],[-5,45],[75,-55],[-30,-70],[25,25],[-65,-10],[50,-40],[-20,105],[85,15],[-50,20],[0,-40],[-110,84],[40,65],[-85,-40],[30,5],[-10,35],[65,-30],[-35,-100],[15,-15],[-75,80],[55,25],[-45,45],[-114,62],[20,95],[-60,-75],[80,-70],[-15,-30],[45,40],[-90,40],[10,-65],[-25,10],[70,60],[-110,47],[-40,-60],[35,-25],[-70,-30],[5,60],[60,-15],[-30,55],[25,-55],[-55,85],[90,-35],[-114,11],[-10,-90],[50,10],[-80,5],[15,80],[-35,-15],[75,45],[-5,-75],[40,-85],[-65,30],[-97,-82],[30,50],[-20,-45],[85,-80],[-50,-50],[10,25],[-75,-85],[55,90],[-15,0],[65,5],[-73,-110],[-40,70],[20,-5],[-85,60],[45,-60],[-25,-25],[0,100],[-60,-45],[80,25],[-30,15],[-29,142],[35,70],[-45,-75],[70,-45],[-10,65],[15,-40],[-70,15],[50,-75],[-20,80],[90,50],[-23,131],[-55,-5],[5,-20],[40,30],[-35,-45],[60,40],[-80,-55],[25,-70],[-5,15],[75,-5],[20,123],[-50,95],[30,-100],[-65,-20],[10,90],[-40,25],[85,-25],[-25,-60],[55,-50],[-15,40],[0,116],[45,-5],[-75,35],[0,-55],[65,70],[-45,-35],[20,40],[-30,-90],[80,-60],[-60,70],[46,110],[15,-85],[-10,-10],[70,20],[-55,40],[35,-35],[-85,-15],[5,50],[50,80],[-35,5],[66,108],[25,-20],[-70,-70],[60,-25],[-20,60],[40,-45],[-50,-65],[10,70],[-5,-45],[75,65],[76,100],[-40,-10],[30,95],[-65,45],[55,-85],[-15,-20],[85,35],[-30,-35],[20,15],[-80,75],[103,44],[45,50],[-60,-90],[0,20],[65,-65],[-25,30],[35,-90],[-45,60],[90,0],[-10,-70],[112,-2],[50,-20],[-70,-40],[15,60],[-35,-85],[70,-10],[-55,15],[25,75],[-20,-40],[60,55],[113,-16],[-90,20],[5,-30],[40,-70],[-45,85],[80,40],[-15,-55],[30,25],[-75,-5],[55,-35],[141,-32],[-5,90],[-60,-55],[85,-45],[-25,45],[10,-10],[-50,-25],[45,20],[-35,75],[20,-60],[99,-27],[-80,45],[65,-80],[0,35],[-40,-70],[75,10],[-20,-15],[35,45],[-65,-80],[50,35],[92,-68],[-10,55],[25,-40],[-55,-40],[90,65],[-30,-5],[15,-95],[-85,-30],[40,-15],[-45,35],[72,-77],[60,-50],[-15,70],[5,5],[-70,-60],[70,50],[-25,-50],[45,-95],[-60,25],[20,55],[58,-86],[-35,-25],[80,-15],[-5,-65],[30,-50],[-50,55],[10,-25],[-75,-75],[55,15],[-20,25],[31,-115],[65,-40],[-40,90],[0,-100],[85,-65],[-30,50],[35,10],[-65,5],[50,-55],[-10,80],[12,-104],[25,-80],[-55,-15],[75,30],[-45,-90],[15,35],[-90,-50],[40,85],[-15,-80],[60,0],[-8,-110],[-35,40],[5,-5],[20,-45],[-25,-65],[45,70],[-70,-10],[30,-30],[-50,75],[90,-55],[-27,-109],[-5,25],[55,-70],[-40,-50],[10,45],[70,-25],[-20,90],[35,-5],[-60,-35],[80,80],[-42,-95],[-30,20],[0,-80],[50,50],[-75,55],[25,5],[-45,-5],[65,25],[-10,-25],[40,-40],[-63,-99],[-85,-80],[15,20],[-35,60],[60,-90],[-55,-70],[5,85],[75,-35],[-25,0],[30,65],[-101,-37],[-65,-50],[45,-25],[-15,50],[20,-15],[-40,15],[85,5],[0,-35],[55,30],[-70,30],[-120,-11],[10,-70],[-30,-20],[65,45],[-50,-45],[35,-75],[-20,10],[70,-75],[-5,70],[40,45],[-101,32],[-80,-10],[25,-60],
[-12,18],[38,-62],[-48,28],[62,12],[-22,-72],[28,48],[-68,-22],[48,-8],[-8,62],[72,-52],[-58,52],[18,-18],[-38,-38],[82,22],[-28,82],[8,-58],[-78,8],[58,68],[-18,-88],[42,-32],[-62,-62],[22,32],[-42,62],[68,-68],[-2,-22],[32,82],[-72,42],[52,-48],[-32,-12],[12,72],[-52,-78],[78,58],[-8,8],[38,-82],[-82,-42],[28,18],[-48,-58],[62,42],[-18,48],[48,-72],[-68,72],[2,-68],[-28,28],[72,-8],[-58,-8],[18,88],[-38,-68],[88,-38],[-12,-48],[42,58],[-78,-72],[22,-38],[-42,12],[58,-22],[-22,92],[32,-12],[-62,18],[8,42],[68,32],[-48,-32],[28,-88],[-8,-32],[52,78],[-72,-52],[12,-8],[-32,72],[78,-58],[-52,48],[38,22],[-18,-62],[62,-78],[-2,58],[-68,-88],[48,28],[-28,-28],[18,-52],[-82,32],[72,72],[-38,38],[2,-92],[58,-42],[-12,28],[32,38],[-58,-48],[42,-2],[-22,12],[68,-32],[-48,82],[8,-42],[-72,-32]];

// ---------- LAYOUT (pixel boxes of each plot area in the 1231x811 page) ----------
const W = 1231, H = 811;
const panels = [
  {data: g1_X,    kind: 'band', blue: 'rgba(0,154,250,0.22)', box: [88, 312, 43.3, 350],      xr: [4.9945, 5.1713], yr: [-0.0342, 1.1306], xt: [5.00, 5.05, 5.10, 5.15], xf: '.2f', yt: [0, 0.25, 0.5, 0.75, 1.0], yf: '.2f', ttl: 'X', xl: 'X', xlab: [200, 377], ylab: [38, 197]},
  {data: g1_V,    kind: 'walk', box: [375.3, 597.7, 43.3, 350], xr: [-0.98, 1.061], yr: [0.092, 2.598], xt: [-0.5, 0, 0.5, 1.0], xf: '.1f', yt: [0.5, 1.0, 1.5, 2.0, 2.5], yf: '.1f', ttl: 'V', xl: 'V', xlab: [482, 377], ylab: [333, 194]},
  {data: g10_X,   kind: 'band', blue: 'rgba(0,154,250,0.45)', box: [679.3, 896.7, 43.3, 350], xr: [3.56, 5.092], yr: [-0.0315, 1.0435], xt: [3.6, 3.9, 4.2, 4.5, 4.8], xf: '.1f', yt: [0, 0.25, 0.5, 0.75, 1.0], yf: '.2f', ttl: 'X', xl: 'X', xlab: [782, 377], ylab: [628, 197]},
  {data: g10_V,   kind: 'walk', box: [970.3, 1188.3, 43.3, 350], xr: [-8.66, 6.25], yr: [-6.59, 8.06], xt: [-7.5, -5, -2.5, 0, 2.5, 5], xf: '.1f', yt: [-5, -2.5, 0, 2.5, 5, 7.5], yf: '.1f', ttl: 'V', xl: 'V', xlab: [1077, 377], ylab: [917, 197]},
  {data: g100_X,  kind: 'dotband', box: [70.7, 299.3, 469.3, 775.7], xr: [4.938, 7.094], yr: [-0.55, 3.835], xt: [5.0, 5.5, 6.0, 6.5, 7.0], xf: '.1f', yt: [0, 1, 2, 3], yf: 'd', ttl: 'X', xl: 'X', xlab: [183, 801], ylab: [39, 623]},
  {data: g100_V,  kind: 'walk', box: [369, 597.3, 469.3, 775.7], xr: [-27.03, 28.9], yr: [-27.2, 40.75], xt: [-20, -10, 0, 10, 20], xf: 'd', yt: [-20, -10, 0, 10, 20, 30, 40], yf: 'd', ttl: 'V', xl: 'V', xlab: [483, 801], ylab: [323, 620]},
  {data: g1000_X, kind: 'walk', box: [671.7, 891.7, 469.3, 775.7], xr: [1.64, 5.307], yr: [-0.057, 1.688], xt: [2, 3, 4, 5], xf: 'd', yt: [0, 0.5, 1.0, 1.5], yf: '.1f', ttl: 'X', xl: 'X', xlab: [781, 801], ylab: [630, 623]},
  {data: g1000_V, kind: 'walk', box: [968.7, 1187.3, 469.3, 775.7], xr: [-158.9, 150.5], yr: [-122.9, 149.8], xt: [-150, -100, -50, 0, 50, 100, 150], xf: 'd', yt: [-100, -50, 0, 50, 100], yf: 'd', ttl: 'V', xl: 'V', xlab: [1078, 801], ylab: [917, 620]}
];
const gammaPos = [[342, 17], [934, 17], [334, 442], [931, 442]];

const BLUE = '#009AFA';
const traces = [];
const layout = {
  width: W, height: H, margin: {l: 0, r: 0, t: 0, b: 0},
  paper_bgcolor: '#fff', plot_bgcolor: '#fff', showlegend: false,
  annotations: [], shapes: []
};
const px = v => v / W, py = v => 1 - v / H;
const serif = 'DejaVu Serif, Liberation Serif, serif';
const sans = 'DejaVu Sans, Liberation Sans, sans-serif';

panels.forEach((p, i) => {
  const sfx = i === 0 ? '' : String(i + 1);
  const xa = 'x' + sfx, ya = 'y' + sfx;
  const xs = p.data.map(d => d[0]), ys = p.data.map(d => d[1]);
  const common = {type: 'scatter', x: xs, y: ys, xaxis: xa, yaxis: ya, hoverinfo: 'skip'};
  if (p.kind === 'band') {
    traces.push(Object.assign({}, common, {mode: 'lines', line: {color: '#080b0e', width: 5.5, shape: 'spline', smoothing: 0.7}}));
    traces.push(Object.assign({}, common, {mode: 'lines', line: {color: p.blue, width: 1.1, shape: 'spline', smoothing: 0.7}}));
  } else if (p.kind === 'dotband') {
    traces.push(Object.assign({}, common, {mode: 'lines', line: {color: '#0a0e12', width: 6.5, shape: 'spline', smoothing: 0.7}}));
    traces.push(Object.assign({}, common, {mode: 'lines', line: {color: BLUE, width: 2.6, shape: 'spline', smoothing: 0.7, dash: 'dot'}}));
  } else {
    traces.push(Object.assign({}, common, {mode: 'lines+markers', line: {color: BLUE, width: 1.1},
      marker: {size: 4.6, color: BLUE, line: {color: '#000', width: 0.8}}}));
  }
  traces.push({type: 'scatter', mode: 'markers', x: [xs[0]], y: [ys[0]], xaxis: xa, yaxis: ya, hoverinfo: 'skip', cliponaxis: false,
    marker: {symbol: 'star', size: 11, color: '#E26F46', line: {color: '#000', width: 0.7}}});

  const [l, r, t, b] = p.box;
  const axCommon = {showline: true, linecolor: '#000', linewidth: 1, showgrid: true, gridcolor: 'rgba(0,0,0,0.10)', gridwidth: 1,
    zeroline: false, ticks: '', tickfont: {family: sans, size: 11.5, color: '#1a1a1a'}, fixedrange: true, mirror: false};
  layout['xaxis' + sfx] = Object.assign({}, axCommon, {domain: [px(l), px(r)], range: p.xr, anchor: ya, tickmode: 'array', tickvals: p.xt, tickformat: p.xf});
  layout['yaxis' + sfx] = Object.assign({}, axCommon, {domain: [py(b), py(t)], range: p.yr, anchor: xa, tickmode: 'array', tickvals: p.yt, tickformat: p.yf});

  layout.annotations.push({xref: 'paper', yref: 'paper', x: px((l + r) / 2), y: py(t - 16), xanchor: 'center', yanchor: 'middle', showarrow: false,
    text: '<i>' + p.ttl + '</i>(<i>t</i>)', font: {family: serif, size: 19, color: '#000'}});
  layout.annotations.push({xref: 'paper', yref: 'paper', x: px(p.xlab[0]), y: py(p.xlab[1]), xanchor: 'center', yanchor: 'middle', showarrow: false,
    text: '<i>' + p.xl + '</i><sub>1</sub>', font: {family: serif, size: 14.5, color: '#222'}});
  layout.annotations.push({xref: 'paper', yref: 'paper', x: px(p.ylab[0]), y: py(p.ylab[1]), xanchor: 'center', yanchor: 'middle', showarrow: false, textangle: -90,
    text: '<i>' + p.xl + '</i><sub>2</sub>', font: {family: serif, size: 16, color: '#222'}});
});

gammaLabels.forEach((g, k) => {
  layout.annotations.push({xref: 'paper', yref: 'paper', x: px(gammaPos[k][0]), y: py(gammaPos[k][1]), xanchor: 'center', yanchor: 'middle', showarrow: false,
    text: g, font: {family: sans, size: 18, color: '#000'}});
});

layout.shapes.push({type: 'line', xref: 'paper', yref: 'paper', x0: px(9), x1: px(1219), y0: py(415), y1: py(415), line: {color: '#000', width: 2.6}});

Plotly.newPlot('chart', traces, layout, {staticPlot: true, displayModeBar: false});
</script>
</body></html>
